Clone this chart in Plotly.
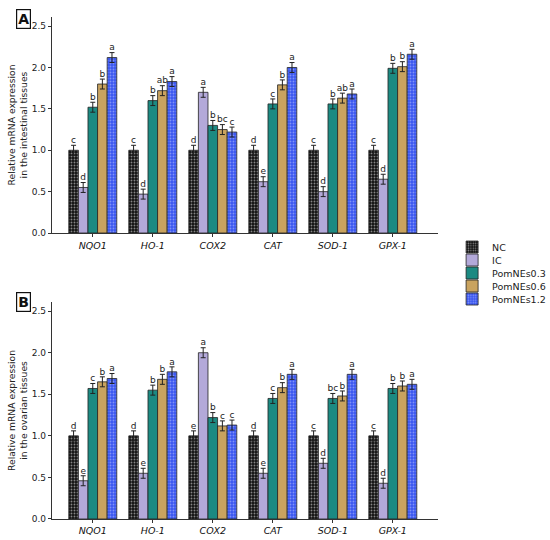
import plotly.graph_objects as go

genes = ["NQO1", "HO-1", "COX2", "CAT", "SOD-1", "GPX-1"]
groups = ["NC", "IC", "PomNEs0.3", "PomNEs0.6", "PomNEs1.2"]

# Panel A: intestinal tissues (rows = groups, columns = genes)
a_NC = [1.00, 1.00, 1.00, 1.00, 1.00, 1.00]
a_IC = [0.55, 0.47, 1.70, 0.62, 0.50, 0.65]
a_P03 = [1.52, 1.60, 1.30, 1.56, 1.56, 1.99]
a_P06 = [1.80, 1.72, 1.25, 1.79, 1.63, 2.01]
a_P12 = [2.12, 1.83, 1.22, 2.00, 1.68, 2.16]
a_err = 0.06
a_NC_l = ["c", "c", "d", "d", "c", "c"]
a_IC_l = ["d", "d", "a", "e", "d", "d"]
a_P03_l = ["b", "b", "b", "c", "b", "b"]
a_P06_l = ["b", "ab", "bc", "b", "ab", "b"]
a_P12_l = ["a", "a", "c", "a", "a", "a"]

# Panel B: ovarian tissues
b_NC = [1.00, 1.00, 1.00, 1.00, 1.00, 1.00]
b_IC = [0.46, 0.55, 2.00, 0.55, 0.67, 0.43]
b_P03 = [1.57, 1.55, 1.22, 1.45, 1.45, 1.57]
b_P06 = [1.65, 1.68, 1.12, 1.58, 1.48, 1.60]
b_P12 = [1.69, 1.77, 1.13, 1.74, 1.74, 1.62]
b_err = 0.06
b_NC_l = ["d", "d", "e", "d", "c", "c"]
b_IC_l = ["e", "e", "a", "e", "d", "d"]
b_P03_l = ["c", "b", "b", "c", "bc", "b"]
b_P06_l = ["b", "b", "c", "b", "b", "b"]
b_P12_l = ["a", "a", "c", "a", "a", "a"]

styles = [
    dict(color="#111111", pattern=dict(shape=".", bgcolor="#111111", fgcolor="#ffffff", size=3, solidity=0.3)),
    dict(color="#b3a9d9", pattern=None),
    dict(color="#1c8a82", pattern=None),
    dict(color="#c9a35f", pattern=None),
    dict(color="#3a56f0", pattern=dict(shape=".", bgcolor="#3a56f0", fgcolor="#c8d0ff", size=3, solidity=0.3)),
]

panelA = [a_NC, a_IC, a_P03, a_P06, a_P12]
panelA_l = [a_NC_l, a_IC_l, a_P03_l, a_P06_l, a_P12_l]
panelB = [b_NC, b_IC, b_P03, b_P06, b_P12]
panelB_l = [b_NC_l, b_IC_l, b_P03_l, b_P06_l, b_P12_l]

legend_ids = ["legend", "legend2", "legend3", "legend4", "legend5"]
legend_rows_px = [247, 260, 273, 286, 299]

bw = 0.16
fig = go.Figure()

def add_panel(values, letters, err, xa, ya, legend):
    for j, (vals, lets) in enumerate(zip(values, letters)):
        xs = [i + (j - 2) * bw for i in range(len(genes))]
        st = styles[j]
        marker = dict(color=st["color"], line=dict(color="#222222", width=0.8))
        if st["pattern"]:
            marker["pattern"] = st["pattern"]
        fig.add_trace(go.Bar(
            x=xs, y=vals, width=bw, name=groups[j], marker=marker,
            error_y=dict(type="constant", value=err, color="#222222", thickness=1, width=2.5),
            showlegend=legend, legend=legend_ids[j], legendgroup=groups[j],
            xaxis=xa, yaxis=ya,
        ))
        fig.add_trace(go.Scatter(
            x=xs, y=[v + err for v in vals], text=lets, mode="text",
            textposition="top center", textfont=dict(size=9, color="#222222"),
            showlegend=False, hoverinfo="skip", xaxis=xa, yaxis=ya,
        ))

add_panel(panelA, panelA_l, a_err, "x", "y", True)
add_panel(panelB, panelB_l, b_err, "x2", "y2", False)

xcommon = dict(range=[-0.68, 5.75], tickvals=list(range(len(genes))),
               ticktext=["<i>%s</i>" % g for g in genes],
               showline=True, linecolor="#333333", linewidth=1.2, ticks="outside",
               ticklen=3, tickcolor="#333333", showgrid=False, zeroline=False,
               tickfont=dict(size=9.5, color="#111111"),
               domain=[0.0945, 0.796], automargin=False)
ycommon = dict(range=[0, 2.61], tickvals=[0, 0.5, 1.0, 1.5, 2.0, 2.5],
               ticktext=["0.0", "0.5", "1.0", "1.5", "2.0", "2.5"],
               showline=True, linecolor="#333333", linewidth=1.2, ticks="outside",
               ticklen=3, tickcolor="#333333", showgrid=False, zeroline=False,
               tickfont=dict(size=9, color="#222222"), automargin=False)

layout_legends = {}
for lid, ypx in zip(legend_ids, legend_rows_px):
    layout_legends[lid] = dict(x=0.822, y=1 - ypx / 540, xanchor="left", yanchor="middle",
                               font=dict(size=9.5), itemwidth=30,
                               bgcolor="rgba(0,0,0,0)")

fig.update_layout(
    width=550, height=540, margin=dict(l=0, r=0, t=0, b=0, autoexpand=False),
    paper_bgcolor="white", plot_bgcolor="white",
    font=dict(family="DejaVu Sans", color="#222222"),
    barmode="overlay",
    xaxis=dict(**xcommon, anchor="y"),
    yaxis=dict(**ycommon, domain=[0.5685, 0.9685], anchor="x",
               title=dict(text="Relative mRNA expression<br>in the intestinal tissues",
                          font=dict(size=9.2), standoff=2)),
    xaxis2=dict(**xcommon, anchor="y2"),
    yaxis2=dict(**ycommon, domain=[0.0389, 0.4407], anchor="x2",
                title=dict(text="Relative mRNA expression<br>in the ovarian tissues",
                           font=dict(size=9.2), standoff=2)),
    **layout_legends,
)

for txt, y in [("A", 0.984), ("B", 0.459)]:
    fig.add_annotation(text="<b>%s</b>" % txt, x=0.029, y=y, xref="paper", yref="paper",
                       xanchor="left", yanchor="top", showarrow=False,
                       font=dict(size=14, color="#111111"),
                       bordercolor="#111111", borderwidth=1.2, borderpad=1,
                       bgcolor="white")

fig.write_html("out.html", config={"displayModeBar": False},
               post_script="document.body.style.margin='0';document.body.style.overflow='hidden';")
